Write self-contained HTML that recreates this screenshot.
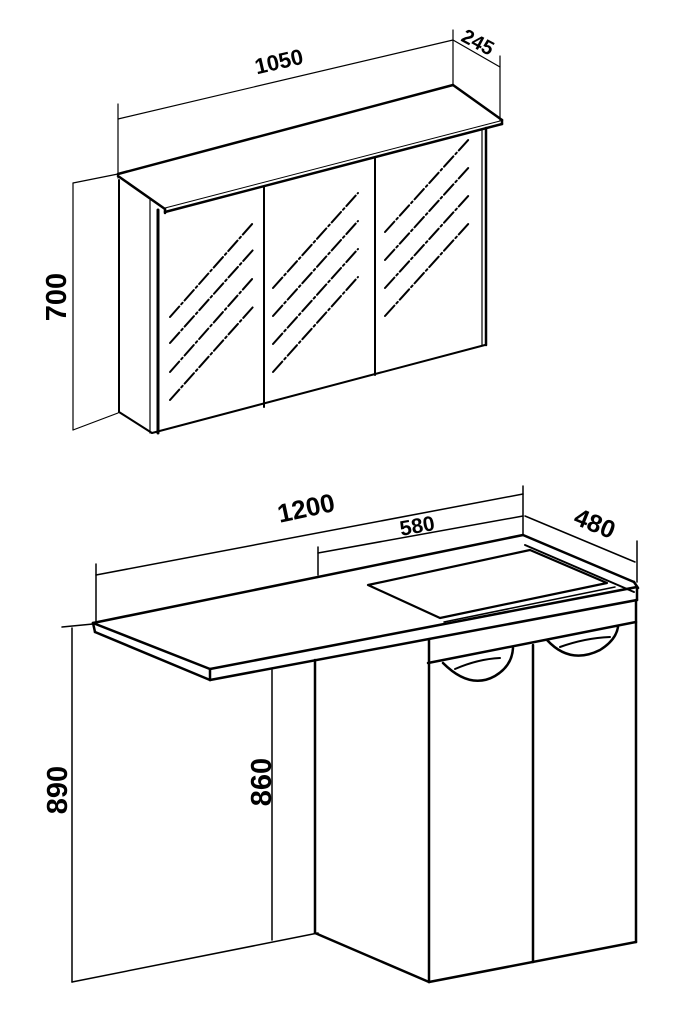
<!DOCTYPE html>
<html><head><meta charset="utf-8"><style>
html,body{margin:0;padding:0;background:#fff;}
svg{display:block;}
text{font-family:"Liberation Sans",sans-serif;font-weight:bold;fill:#000;}
</style></head><body>
<svg width="680" height="1012" viewBox="0 0 680 1012" xmlns="http://www.w3.org/2000/svg">
<g fill="none" stroke="#000" stroke-linecap="round" stroke-linejoin="round">
<g stroke-width="1.2">
<line x1="118" y1="104" x2="118" y2="178"/>
<line x1="453" y1="30" x2="453" y2="86"/>
<line x1="118" y1="119" x2="453" y2="40"/>
<line x1="453" y1="40" x2="500" y2="67"/>
<line x1="500" y1="56" x2="500" y2="121"/>
<line x1="73" y1="183" x2="73" y2="430"/>
<line x1="73" y1="183" x2="118" y2="174"/>
<line x1="73" y1="430" x2="118" y2="413"/>
</g>
<g stroke-width="2.5">
<line x1="118" y1="174" x2="453" y2="85"/>
<line x1="453" y1="85" x2="502" y2="120"/>
<line x1="118" y1="176" x2="165" y2="209"/>
<line x1="165" y1="209" x2="165" y2="213"/>
<line x1="165" y1="212" x2="502" y2="124"/>
<line x1="502" y1="120" x2="502" y2="124"/>
<line x1="165" y1="208" x2="500" y2="121" stroke-width="1"/>
</g>
<g stroke-width="2">
<line x1="119" y1="180" x2="119" y2="412"/>
<line x1="119" y1="412" x2="152" y2="433"/>
<line x1="150" y1="200" x2="150" y2="433" stroke-width="1.2"/>
<line x1="158" y1="210" x2="158" y2="433" stroke-width="3"/>
<line x1="152" y1="433" x2="485" y2="345"/>
<line x1="482" y1="130" x2="482" y2="345" stroke-width="1.2"/>
<line x1="486" y1="128" x2="486" y2="345" stroke-width="2.5"/>
<line x1="264" y1="187" x2="264" y2="407"/>
<line x1="375" y1="157" x2="375" y2="375"/>
</g>
<g stroke-width="2" stroke-dasharray="14 3 2 3">
<line x1="170" y1="317" x2="253" y2="223"/>
<line x1="170" y1="343" x2="253" y2="250"/>
<line x1="170" y1="372" x2="253" y2="278"/>
<line x1="170" y1="400" x2="253" y2="307"/>
<line x1="273" y1="288" x2="358" y2="193"/>
<line x1="273" y1="316" x2="358" y2="221"/>
<line x1="273" y1="344" x2="358" y2="249"/>
<line x1="273" y1="372" x2="358" y2="277"/>
<line x1="385" y1="232" x2="470" y2="138"/>
<line x1="385" y1="260" x2="470" y2="166"/>
<line x1="385" y1="288" x2="470" y2="194"/>
<line x1="385" y1="316" x2="470" y2="222"/>
</g>

<g stroke-width="1.5">
<line x1="96" y1="564" x2="96" y2="622"/>
<line x1="523" y1="486" x2="523" y2="535"/>
<line x1="96" y1="575" x2="523" y2="494"/>
<line x1="318" y1="547" x2="318" y2="575"/>
<line x1="318" y1="553" x2="523" y2="516"/>
<line x1="525" y1="516" x2="635" y2="562"/>
<line x1="637" y1="541" x2="637" y2="582"/>
<line x1="72" y1="628" x2="72" y2="982"/>
<line x1="62" y1="627" x2="93" y2="624"/>
<line x1="72" y1="982" x2="318" y2="933"/>
<line x1="272" y1="670" x2="272" y2="940"/>
</g>
<g stroke-width="2.5">
<line x1="93" y1="623" x2="523" y2="535"/>
<line x1="523" y1="535" x2="634" y2="582"/>
<line x1="93" y1="623" x2="210" y2="669"/>
<line x1="93" y1="623" x2="95" y2="632"/>
<line x1="95" y1="632" x2="210" y2="680"/>
<line x1="210" y1="669" x2="210" y2="680"/>
<line x1="210" y1="669" x2="637" y2="587"/>
<line x1="210" y1="680" x2="637" y2="600"/>
<line x1="637" y1="587" x2="637" y2="600"/>
<line x1="634" y1="582" x2="638" y2="588"/>
<line x1="525" y1="545" x2="634" y2="592" stroke-width="2"/>
<polygon points="368,585 530,550 607,583 440,618" stroke-width="2.2"/>
<line x1="444" y1="622" x2="615" y2="587" stroke-width="1.5"/>
</g>
<g stroke-width="2.5">
<line x1="315" y1="660" x2="315" y2="933"/>
<line x1="315" y1="933" x2="429" y2="982"/>
<line x1="429" y1="640" x2="429" y2="982"/>
<line x1="429" y1="982" x2="636" y2="942"/>
<line x1="636" y1="600" x2="636" y2="942"/>
<line x1="533" y1="645" x2="533" y2="962"/>
<line x1="428" y1="663" x2="636" y2="622"/>
<path d="M443 663 Q470 690 495 676 Q512 666 513 648"/>
<path d="M455 669 Q478 659 500 658" stroke-width="2"/>
<path d="M547 640 Q570 665 600 650 Q616 640 618 627"/>
<path d="M560 647 Q585 638 610 637" stroke-width="2"/>
</g>
</g>
<text x="279" y="69" font-size="22" text-anchor="middle" transform="rotate(-13 279 62)">1050</text>
<text x="478" y="49" font-size="20" text-anchor="middle" transform="rotate(28 478 42)">245</text>
<text x="57" y="306" font-size="29" text-anchor="middle" transform="rotate(-90 57 297)">700</text>
<text x="306" y="517" font-size="26" text-anchor="middle" transform="rotate(-12 306 508)">1200</text>
<text x="417" y="533" font-size="21" text-anchor="middle" transform="rotate(-10 417 525)">580</text>
<text x="595" y="532" font-size="25" text-anchor="middle" transform="rotate(22 595 523)">480</text>
<text x="58" y="799" font-size="29" text-anchor="middle" transform="rotate(-90 58 790)">890</text>
<text x="262" y="791" font-size="29" text-anchor="middle" transform="rotate(-90 262 782)">860</text>
</svg>
</body></html>
